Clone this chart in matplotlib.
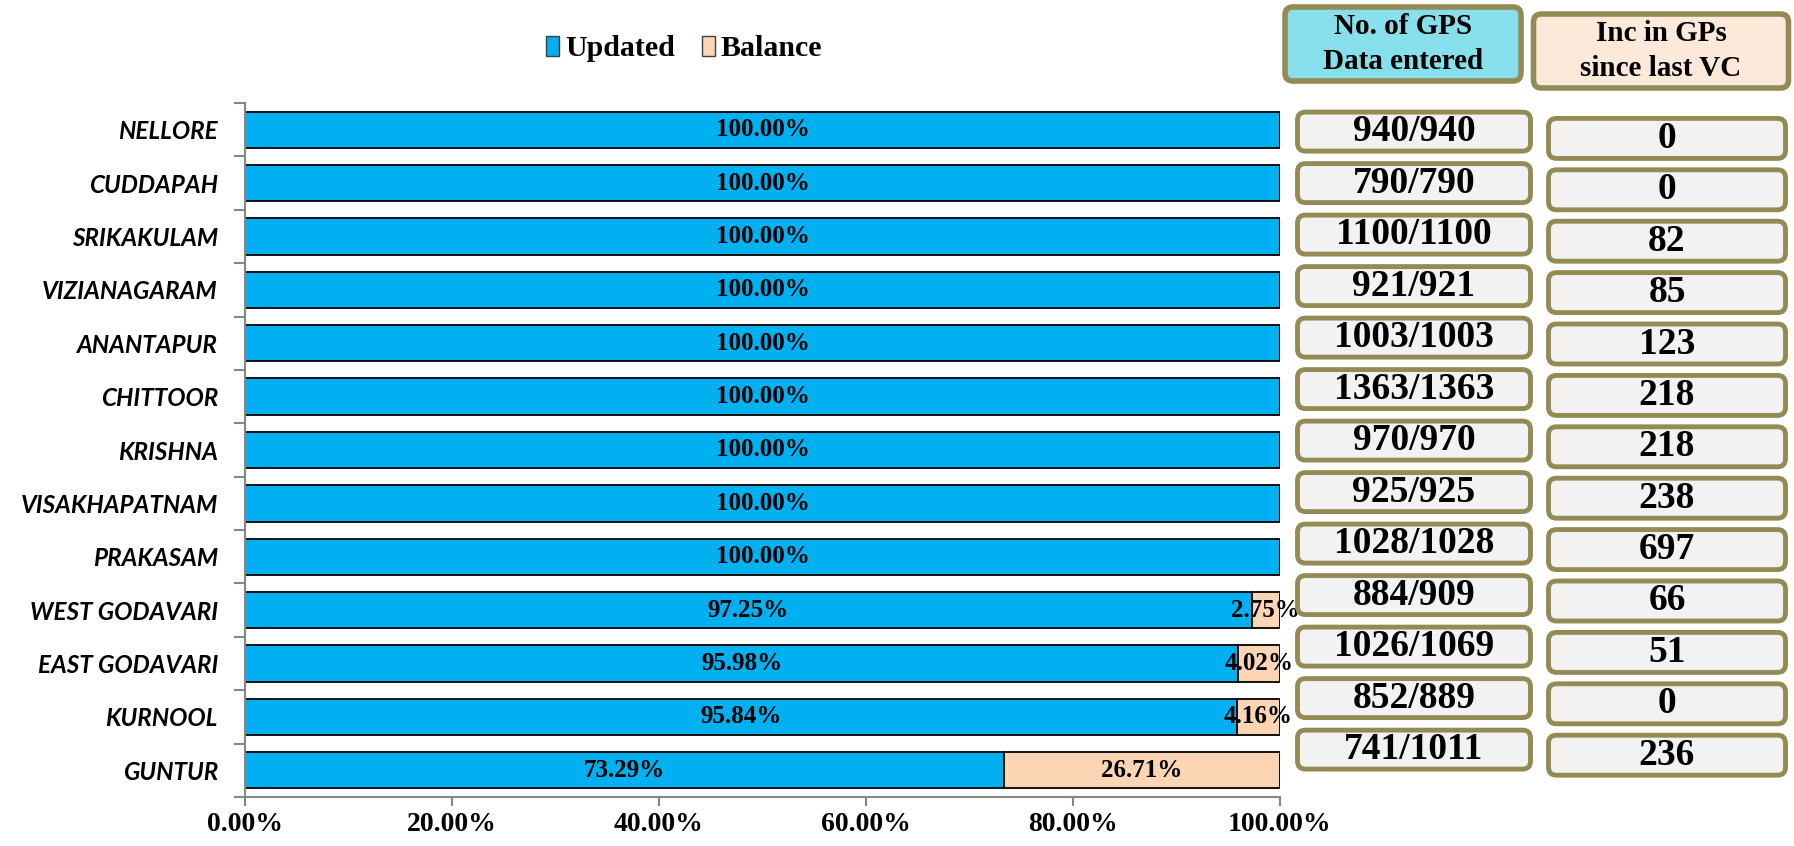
import numpy as np
import matplotlib
matplotlib.use("Agg")
import matplotlib.pyplot as plt
from matplotlib.patches import FancyBboxPatch, Patch

# data
districts = ["NELLORE", "CUDDAPAH", "SRIKAKULAM", "VIZIANAGARAM", "ANANTAPUR",
             "CHITTOOR", "KRISHNA", "VISAKHAPATNAM", "PRAKASAM", "WEST GODAVARI",
             "EAST GODAVARI", "KURNOOL", "GUNTUR"]
updated = [1.0, 1.0, 1.0, 1.0, 1.0, 1.0, 1.0, 1.0, 1.0, 0.9725, 0.9598, 0.9584, 0.7329]
balance = [0.0, 0.0, 0.0, 0.0, 0.0, 0.0, 0.0, 0.0, 0.0, 0.0275, 0.0402, 0.0416, 0.2671]
gps_entered = ["940/940", "790/790", "1100/1100", "921/921", "1003/1003", "1363/1363",
               "970/970", "925/925", "1028/1028", "884/909", "1026/1069", "852/889",
               "741/1011"]
inc_since_vc = ["0", "0", "82", "85", "123", "218", "218", "238", "697", "66", "51", "0", "236"]
xticks = [0.0, 0.2, 0.4, 0.6, 0.8, 1.0]

W, H = 1794, 846
fig = plt.figure(figsize=(W / 100, H / 100), dpi=100)
serif = "Liberation Serif"

ax = fig.add_axes([245 / W, 1 - 797 / H, (1280 - 245) / W, (797 - 103) / H])
y = np.arange(len(districts))
c_up = "#00B0F0"
c_bal = "#FCD5B4"
ax.barh(y, updated, height=0.68, color=c_up, edgecolor="black", linewidth=1.3)
ax.barh(y, balance, left=updated, height=0.68, color=c_bal, edgecolor="black", linewidth=1.3)

for i in range(len(districts)):
    ax.text(updated[i] / 2, y[i], f"{updated[i]*100:.2f}%", ha="center", va="center",
            fontsize=18, fontweight="bold", family=serif)
    if balance[i] > 0:
        ax.text(updated[i] + balance[i] / 2, y[i], f"{balance[i]*100:.2f}%", ha="center",
                va="center", fontsize=18, fontweight="bold", family=serif)

ax.set_xlim(0, 1)
ax.set_ylim(len(districts) - 0.5, -0.5)
ax.set_yticks(y)
ax.set_yticklabels(districts, fontsize=17.5, fontweight="bold", fontstyle="italic", family="Lato")
ax.set_yticks(np.arange(-0.5, len(districts), 1), minor=True)
ax.tick_params(axis="y", which="major", length=0, pad=19.5)
ax.tick_params(axis="y", which="minor", length=8, color="#868686", width=1.5)
ax.set_xticks(xticks)
ax.set_xticklabels([f"{t*100:.2f}%" for t in xticks], fontsize=20, fontweight="bold", family=serif)
ax.tick_params(axis="x", length=6.5, color="#868686", width=1.5, pad=4)
for s in ["top", "right"]:
    ax.spines[s].set_visible(False)
for s in ["left", "bottom"]:
    ax.spines[s].set_color("#868686")
    ax.spines[s].set_linewidth(1.5)

handles = [Patch(facecolor=c_up, edgecolor="#404040", label="Updated"),
           Patch(facecolor=c_bal, edgecolor="#404040", label="Balance")]
fig.legend(handles=handles, loc="center", bbox_to_anchor=(684 / W, 1 - 49 / H), ncol=2,
           frameon=False, prop={"family": serif, "weight": "bold", "size": 21.5},
           handlelength=0.45, handleheight=0.65, handletextpad=0.2, columnspacing=0.9)

# side table drawn in pixel space
tab = fig.add_axes([0, 0, 1, 1])
tab.set_xlim(0, W)
tab.set_ylim(H, 0)
tab.axis("off")
olive = "#948A54"


def box(cx, cy, w, h, text, face, size, lw=3.5, ls=1.2):
    tab.add_patch(FancyBboxPatch((cx - w / 2, cy - h / 2), w, h,
                                 boxstyle="round,pad=0,rounding_size=8",
                                 facecolor=face, edgecolor=olive, linewidth=lw))
    tab.text(cx, cy, text, ha="center", va="center", fontsize=size,
             fontweight="bold", family=serif, linespacing=ls)


box(1403, 44, 236, 74, "No. of GPS\nData entered", "#86DFEA", 21, lw=4, ls=1.4)
box(1661, 51, 255, 74, "Inc in GPs\nsince last VC", "#FDE9D9", 21, lw=4, ls=1.4)

for i in range(len(districts)):
    box(1414, 131.6 + i * 51.5, 233, 39, gps_entered[i], "#F2F2F2", 27)
    box(1667, 138.4 + i * 51.4, 237, 40, inc_since_vc[i], "#F2F2F2", 27)

fig.savefig("out.png", dpi=100)
